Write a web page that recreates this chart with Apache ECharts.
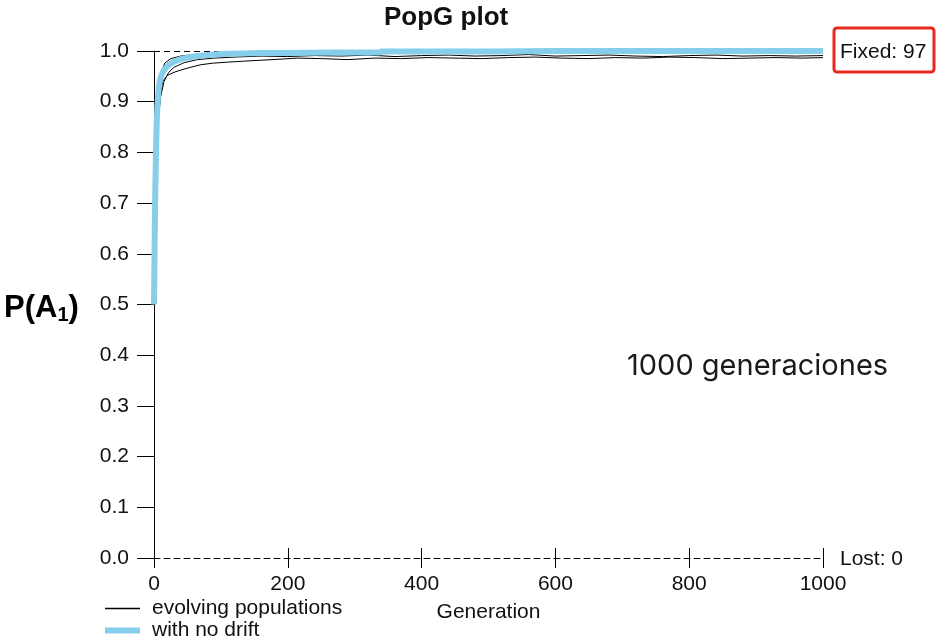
<!DOCTYPE html>
<html>
<head>
<meta charset="utf-8">
<script src="https://cdn.jsdelivr.net/npm/echarts@6/dist/echarts.min.js"></script>
<style>
  html, body { margin: 0; padding: 0; background: #fff; }
  #main { width: 937px; height: 640px; }
</style>
</head>
<body>
<div id="main"></div>
<script>
// generations / frequency of A1
var yTicks = [0, 0.1, 0.2, 0.3, 0.4, 0.5, 0.6, 0.7, 0.8, 0.9, 1.0];
var xTicks = [0, 200, 400, 600, 800, 1000];

// with no drift (deterministic curve)
var noDriftGen = [0, 1, 2, 3, 4, 5, 6, 7, 8, 10, 12, 15, 20, 25, 30, 40, 50, 60, 80, 100, 130, 160, 200, 260, 335, 340, 400, 500, 600, 700, 800, 900, 1000];
var noDriftVal = [0.5, 0.63, 0.73, 0.80, 0.855, 0.89, 0.91, 0.925, 0.935, 0.948, 0.955, 0.962, 0.970, 0.975, 0.979, 0.984, 0.987, 0.989, 0.992, 0.994, 0.995, 0.996, 0.996, 0.997, 0.997, 0.999, 0.999, 0.999, 1.0, 1.0, 1.0, 1.0, 1.0];

// evolving populations (three traces that make up the black band)
var popAGen = [0, 2, 4, 6, 10, 16, 25, 40, 60, 80, 110, 150, 200, 250, 300, 350, 400, 450, 500, 550, 600, 650, 700, 750, 800, 850, 900, 950, 1000];
var popAVal = [0.5, 0.76, 0.88, 0.925, 0.955, 0.976, 0.985, 0.99, 0.993, 0.995, 0.994, 0.996, 0.995, 0.996, 0.994, 0.996, 0.995, 0.996, 0.995, 0.997, 0.995, 0.996, 0.995, 0.996, 0.996, 0.995, 0.996, 0.995, 0.996];

var popBGen = [0, 3, 6, 10, 15, 22, 30, 45, 65, 90, 120, 160, 200, 240, 280, 320, 360, 400, 440, 480, 520, 560, 600, 640, 680, 720, 760, 800, 840, 880, 920, 960, 1000];
var popBVal = [0.5, 0.72, 0.86, 0.91, 0.94, 0.958, 0.968, 0.977, 0.983, 0.986, 0.988, 0.99, 0.989, 0.991, 0.99, 0.992, 0.989, 0.991, 0.992, 0.99, 0.991, 0.993, 0.99, 0.991, 0.992, 0.99, 0.989, 0.991, 0.992, 0.99, 0.991, 0.99, 0.991];

var popCGen = [0, 4, 8, 13, 20, 30, 39, 55, 70, 88, 110, 135, 163, 190, 214, 250, 290, 330, 370, 410, 450, 490, 530, 570, 610, 650, 690, 730, 770, 810, 850, 890, 930, 970, 1000];
var popCVal = [0.5, 0.8, 0.9, 0.94, 0.952, 0.958, 0.962, 0.968, 0.973, 0.976, 0.978, 0.98, 0.982, 0.984, 0.986, 0.985, 0.983, 0.986, 0.985, 0.987, 0.986, 0.985, 0.987, 0.988, 0.986, 0.985, 0.987, 0.986, 0.988, 0.987, 0.985, 0.986, 0.987, 0.986, 0.987];

function pairs(xs, ys) {
  var out = [];
  for (var i = 0; i < xs.length; i++) out.push([xs[i], ys[i]]);
  return out;
}

var chart = echarts.init(document.getElementById('main'));
var font = 'Liberation Sans, Arial, sans-serif';
var txt = '#111';

function popSeries(xs, ys) {
  return {
    name: 'evolving populations',
    type: 'line',
    data: pairs(xs, ys),
    symbol: 'none',
    lineStyle: { color: '#000', width: 1 },
    itemStyle: { color: '#000' },
    z: 2
  };
}

function legendBox(name, top, h) {
  return {
    orient: 'vertical',
    left: 105,
    top: top,
    padding: 0,
    icon: 'rect',
    itemWidth: 35,
    itemHeight: h,
    textStyle: { fontFamily: font, fontSize: 21, color: txt, padding: [0, 0, 0, 7] },
    data: [name]
  };
}

var option = {
  animation: false,
  backgroundColor: '#fff',
  title: {
    text: 'PopG plot',
    left: 379,
    top: 0,
    textStyle: { fontFamily: font, fontWeight: 'bold', fontSize: 26, color: txt }
  },
  grid: { left: 154, right: 114, top: 51, bottom: 82 },
  legend: [
    legendBox('evolving populations', 598, 1.5),
    legendBox('with no drift', 620, 6)
  ],
  xAxis: [{
    type: 'value',
    min: 0,
    max: 1000,
    interval: 200,
    name: 'Generation',
    nameLocation: 'middle',
    nameGap: 44,
    nameTextStyle: { fontFamily: font, fontSize: 21, color: txt },
    axisLine: { show: true, lineStyle: { color: '#000', width: 1, type: [6, 4] } },
    axisTick: { show: true, length: 10, lineStyle: { color: '#000' } },
    axisLabel: {
      fontFamily: font, fontSize: 21, color: txt, margin: 16,
      formatter: function(v) { return String(v); }
    },
    splitLine: { show: false }
  }, {
    type: 'value',
    position: 'bottom',
    min: 0,
    max: 1000,
    interval: 200,
    axisLine: { show: false },
    axisTick: { show: true, inside: true, length: 10, lineStyle: { color: '#000' } },
    axisLabel: { show: false },
    splitLine: { show: false }
  }],
  yAxis: {
    type: 'value',
    min: 0,
    max: 1,
    interval: 0.1,
    axisLine: { show: true, lineStyle: { color: '#000', width: 1 } },
    axisTick: { show: true, length: 17, lineStyle: { color: '#000' } },
    axisLabel: {
      fontFamily: font, fontSize: 21, color: txt, margin: 25,
      formatter: function(v) { return v.toFixed(1); }
    },
    splitLine: { show: false }
  },
  series: [
    popSeries(popAGen, popAVal),
    popSeries(popBGen, popBVal),
    popSeries(popCGen, popCVal),
    {
      name: 'with no drift',
      type: 'line',
      data: pairs(noDriftGen, noDriftVal),
      symbol: 'none',
      lineStyle: { color: '#87CEEB', width: 6 },
      itemStyle: { color: '#87CEEB' },
      z: 3,
      markLine: {
        silent: true,
        symbol: 'none',
        label: { show: false },
        lineStyle: { color: '#000', width: 1, type: [6, 4] },
        z: 1,
        data: [{ yAxis: 1 }]
      }
    }
  ],
  graphic: [
    {
      type: 'rect',
      shape: { x: 834, y: 28, width: 100, height: 44, r: 3 },
      style: { fill: 'none', stroke: '#e8281c', lineWidth: 3 }
    },
    {
      type: 'text',
      x: 840, y: 52,
      style: { text: 'Fixed: 97', fontFamily: font, fontSize: 21, fill: txt, verticalAlign: 'middle' }
    },
    {
      type: 'text',
      x: 840, y: 559,
      style: { text: 'Lost: 0', fontFamily: font, fontSize: 21, fill: txt, verticalAlign: 'middle' }
    },
    {
      type: 'text',
      x: 627, y: 366,
      style: { text: '1000 generaciones', fontFamily: 'Inter, sans-serif', fontSize: 29, fill: '#1a1a1a', verticalAlign: 'middle' }
    },
    {
      type: 'text',
      x: 4, y: 308,
      style: {
        text: '{a|P(A}{s|1}{a|)}',
        verticalAlign: 'middle',
        rich: {
          a: { fontFamily: font, fontWeight: 'bold', fontSize: 31, color: '#222' },
          s: { fontFamily: font, fontWeight: 'bold', fontSize: 20, color: '#222', padding: [14, 0, 0, 0] }
        }
      }
    }
  ]
};

chart.setOption(option);
</script>
</body>
</html>
